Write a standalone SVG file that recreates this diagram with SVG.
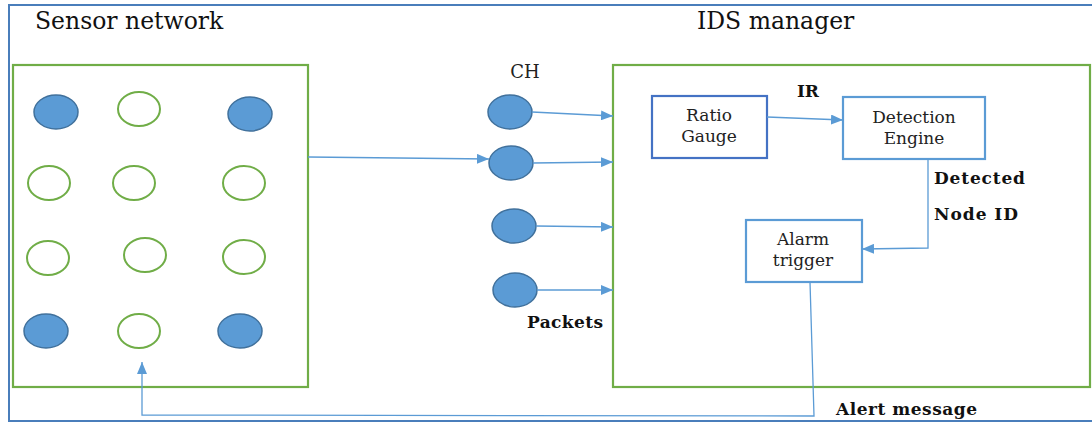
<svg xmlns="http://www.w3.org/2000/svg" width="1092" height="423" viewBox="0 0 1092 423">
  <style>
    .frame { fill: none; stroke: #4a7ebb; stroke-width: 2; }
    .zone { fill: #ffffff; stroke: #70ad47; stroke-width: 2.2; }
    .head { font-family: "DejaVu Serif", "Liberation Serif", serif; font-size: 23.5px; fill: #111; }
    .body { font-family: "DejaVu Serif", "Liberation Serif", serif; font-size: 17px; fill: #222; text-anchor: middle; }
    .tag { font-family: "DejaVu Serif", "Liberation Serif", serif; font-size: 17px; font-weight: bold; fill: #111; }
    .on { fill: #5b9bd5; stroke: #41719c; stroke-width: 1.5; }
    .off { fill: #ffffff; stroke: #70ad47; stroke-width: 2; }
    .box { fill: #ffffff; stroke: #5b9bd5; stroke-width: 2.2; }
    .box-dark { fill: #ffffff; stroke: #4472c4; stroke-width: 2.2; }
    .link { fill: none; stroke: #5b9bd5; stroke-width: 1.3; }
  </style>
  <defs>
    <marker id="arrow" viewBox="0 0 12 10" refX="12" refY="5" markerWidth="12" markerHeight="10" markerUnits="userSpaceOnUse" orient="auto">
      <path d="M0,0 L12,5 L0,10 z" fill="#5b9bd5"/>
    </marker>
  </defs>

  <rect width="1092" height="423" fill="#ffffff"/>
  <rect class="frame" x="9" y="5" width="1100" height="416"/>

  <text class="head" x="35" y="29">Sensor network</text>
  <text class="head" x="697" y="29">IDS manager</text>

  <!-- sensor field with cluster heads (filled) and member nodes (open) -->
  <g id="sensor-network">
    <rect class="zone" x="13" y="65" width="295" height="322"/>
    <ellipse class="on" cx="56" cy="112" rx="22" ry="17"/>
    <ellipse class="off" cx="139" cy="109" rx="21" ry="17"/>
    <ellipse class="on" cx="250" cy="114" rx="22" ry="17"/>
    <ellipse class="off" cx="49" cy="183" rx="21" ry="17"/>
    <ellipse class="off" cx="134" cy="183" rx="21" ry="17"/>
    <ellipse class="off" cx="244" cy="183" rx="21" ry="17"/>
    <ellipse class="off" cx="48" cy="258" rx="21" ry="17"/>
    <ellipse class="off" cx="145" cy="255" rx="21" ry="17"/>
    <ellipse class="off" cx="244" cy="257" rx="21" ry="17"/>
    <ellipse class="on" cx="46" cy="331" rx="22" ry="17"/>
    <ellipse class="off" cx="139" cy="331" rx="21" ry="17"/>
    <ellipse class="on" cx="240" cy="331" rx="22" ry="17"/>
  </g>

  <!-- cluster heads forwarding packets -->
  <g id="cluster-heads">
    <text class="body" x="525" y="78" style="font-size:18px">CH</text>
    <ellipse class="on" cx="510" cy="112" rx="22" ry="17"/>
    <ellipse class="on" cx="511" cy="163" rx="22" ry="17"/>
    <ellipse class="on" cx="514" cy="226" rx="22" ry="17"/>
    <ellipse class="on" cx="515" cy="290" rx="22" ry="17"/>
  </g>

  <g id="ids-manager">
    <rect class="zone" x="613" y="65" width="477" height="322"/>
  </g>

  <g id="ratio-gauge">
    <rect class="box-dark" x="652" y="96" width="115" height="62"/>
    <text class="body" x="709" y="121">Ratio</text>
    <text class="body" x="709" y="142">Gauge</text>
  </g>

  <g id="detection-engine">
    <rect class="box" x="843" y="97" width="142" height="62"/>
    <text class="body" x="914" y="123">Detection</text>
    <text class="body" x="914" y="144">Engine</text>
  </g>

  <g id="alarm-trigger">
    <rect class="box" x="746" y="220" width="116" height="62"/>
    <text class="body" x="803" y="245">Alarm</text>
    <text class="body" x="803" y="266">trigger</text>
  </g>

  <g id="connectors">
    <path class="link" d="M308,157 L489,159" marker-end="url(#arrow)"/>
    <path class="link" d="M532,112 L613,116" marker-end="url(#arrow)"/>
    <path class="link" d="M533,163 L613,162" marker-end="url(#arrow)"/>
    <path class="link" d="M536,226 L613,227" marker-end="url(#arrow)"/>
    <path class="link" d="M537,290 L613,290" marker-end="url(#arrow)"/>
    <path class="link" d="M767,117 L843,120" marker-end="url(#arrow)"/>
    <path class="link" d="M928,159 L928,248 L862,249" marker-end="url(#arrow)"/>
    <path class="link" d="M810,282 L814,416 L142,415 L142,362" marker-end="url(#arrow)"/>
  </g>

  <g id="labels">
    <text class="tag" x="797" y="97" textLength="22">IR</text>
    <text class="tag" x="934" y="184" textLength="91">Detected</text>
    <text class="tag" x="934" y="220" textLength="84">Node ID</text>
    <text class="tag" x="527" y="328" textLength="76">Packets</text>
    <text class="tag" x="836" y="415" textLength="141">Alert message</text>
  </g>
</svg>
